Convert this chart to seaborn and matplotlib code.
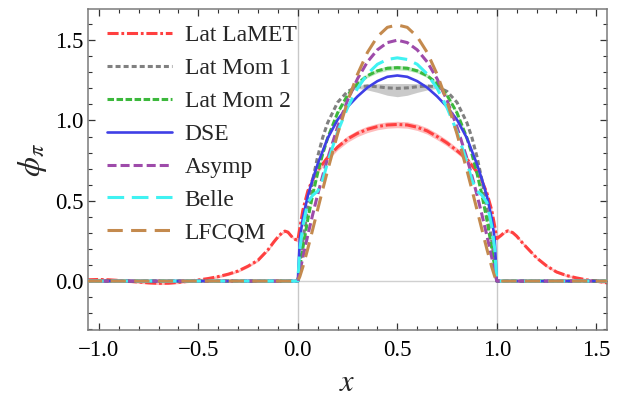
import matplotlib
matplotlib.use("Agg")
import matplotlib.pyplot as plt
import seaborn as sns
import numpy as np

# ---------------- data ----------------
x_model = [-1.06, 0.0, 0.01, 0.025, 0.05, 0.075, 0.1, 0.125, 0.15, 0.2, 0.25, 0.3, 0.35, 0.4, 0.45, 0.5,
           0.55, 0.6, 0.65, 0.7, 0.75, 0.8, 0.85, 0.875, 0.9, 0.925, 0.95, 0.975, 0.99, 1.0, 1.56]

asymp = [0, 0, .059, .146, .285, .416, .540, .656, .765, .960, 1.125, 1.260, 1.365, 1.440, 1.485, 1.500,
         1.485, 1.440, 1.365, 1.260, 1.125, .960, .765, .656, .540, .416, .285, .146, .059, 0, 0]
lfcqm = [0, 0, .028, .087, .201, .323, .447, .570, .690, .917, 1.118, 1.288, 1.424, 1.522, 1.580, 1.595,
         1.580, 1.522, 1.424, 1.288, 1.118, .917, .690, .570, .447, .323, .201, .087, .028, 0, 0]
dse = [0, 0, .26, .39, .53, .635, .73, .81, .89, 1.005, 1.085, 1.15, 1.205, 1.245, 1.272, 1.28,
       1.272, 1.245, 1.205, 1.15, 1.085, 1.005, .89, .81, .73, .635, .53, .39, .26, 0, 0]
mom2 = [0, 0, .085, .205, .384, .540, .675, .792, .891, 1.048, 1.157, 1.231, 1.279, 1.309, 1.325, 1.329,
        1.325, 1.309, 1.279, 1.231, 1.157, 1.048, .891, .792, .675, .540, .384, .205, .085, 0, 0]
mom2_err = [0, 0, .003, .005, .007, .008, .009, .010, .010, .010, .010, .011, .012, .013, .014, .014,
            .014, .013, .012, .011, .010, .010, .010, .010, .009, .008, .007, .005, .003, 0, 0]
mom1 = [0, 0, .106, .249, .458, .633, .777, .894, .986, 1.113, 1.181, 1.210, 1.215, 1.210, 1.203, 1.200,
        1.203, 1.210, 1.215, 1.210, 1.181, 1.113, .986, .894, .777, .633, .458, .249, .106, 0, 0]
belle = [0, 0, .20, .34, .49, .535, .56, .63, .74, .93, 1.08, 1.20, 1.29, 1.35, 1.38, 1.39,
         1.38, 1.35, 1.29, 1.20, 1.08, .93, .74, .63, .56, .535, .49, .34, .20, 0, 0]

x_band1 = [0.25, 0.3, 0.35, 0.4, 0.45, 0.5, 0.55, 0.6, 0.65, 0.7, 0.75]
mom1_lo = [1.179, 1.200, 1.190, 1.175, 1.157, 1.148, 1.157, 1.175, 1.190, 1.200, 1.179]
mom1_hi = [1.183, 1.218, 1.226, 1.229, 1.230, 1.230, 1.230, 1.229, 1.226, 1.218, 1.183]

red_x = [-1.06, -1.0, -0.95, -0.9, -0.85, -0.8, -0.75, -0.7, -0.65, -0.6, -0.55, -0.5, -0.45, -0.4,
         -0.35, -0.3, -0.25, -0.2, -0.15, -0.12, -0.1, -0.08, -0.065, -0.05, -0.035, -0.02,
         0.0, 0.01, 0.025, 0.05, 0.075, 0.1, 0.15, 0.2, 0.25, 0.3, 0.35, 0.4, 0.45, 0.5, 0.55, 0.6,
         0.65, 0.7, 0.75, 0.8, 0.85, 0.9, 0.925, 0.95, 0.975, 0.99, 1.0,
         1.02, 1.04, 1.056, 1.08, 1.1, 1.13, 1.15, 1.2, 1.25, 1.3, 1.35, 1.4, 1.45, 1.5, 1.56]
red_y = [0.008, 0.010, 0.008, 0.004, -0.001, -0.006, -0.011, -0.014, -0.013, -0.008, -0.001, 0.007,
         0.016, 0.028, 0.043, 0.063, 0.093, 0.130, 0.195, 0.245, 0.275, 0.300, 0.311, 0.305, 0.283, 0.262,
         0.255, 0.33, 0.44, 0.56, 0.635, 0.69, 0.77, 0.835, 0.885, 0.92, 0.945, 0.962, 0.972, 0.975,
         0.972, 0.958, 0.935, 0.90, 0.86, 0.812, 0.76, 0.68, 0.625, 0.55, 0.44, 0.34, 0.265,
         0.283, 0.305, 0.313, 0.302, 0.28, 0.237, 0.21, 0.145, 0.095, 0.057, 0.035, 0.02, 0.008, 0.0, -0.012]
red_err = [0.008] * 26 + [0.012, 0.013, 0.014, 0.015, 0.016, 0.017, 0.018, 0.019, 0.02, 0.02, 0.02,
                          0.02, 0.02, 0.02, 0.02, 0.02, 0.02, 0.02, 0.019, 0.018, 0.017, 0.016,
                          0.015, 0.014, 0.013, 0.012, 0.012] + [0.008] * 15

labels = ["Lat LaMET", "Lat Mom 1", "Lat Mom 2", "DSE", "Asymp", "Belle", "LFCQM"]
colors = ["#FF4040", "#808080", "#3CB83C", "#3F3FE6", "#9E4BAA", "#40F2F2", "#C48A4E"]

xticks = [-1.0, -0.5, 0.0, 0.5, 1.0, 1.5]
yticks = [0.0, 0.5, 1.0, 1.5]

# ---------------- style ----------------
sns.set_style("ticks")
plt.rcParams["font.family"] = ["Liberation Serif", "DejaVu Serif"]
plt.rcParams["mathtext.fontset"] = "stix"
plt.rcParams["lines.scale_dashes"] = False

fig = plt.figure(figsize=(6.24, 4.03), dpi=100)
ax = fig.add_axes([0.141, 0.181, 0.832, 0.797])

# reference lines
for xv in (0.0, 1.0):
    ax.axvline(xv, color="#C8C8C8", lw=1.0, zorder=0)
ax.axhline(0.0, color="#D0D0D0", lw=1.0, zorder=0)

# bands
red_y_a = np.array(red_y); red_e = np.array(red_err)
ax.fill_between(red_x, red_y_a - red_e, red_y_a + red_e, color="#FF4040", alpha=0.35, lw=0, zorder=1)
ax.fill_between(x_band1, mom1_lo, mom1_hi, color="#A0A0A0", alpha=0.55, lw=0, zorder=1)
m2 = np.array(mom2); m2e = np.array(mom2_err)
ax.fill_between(x_model, m2 - m2e, m2 + m2e, color="#3CB83C", alpha=0.3, lw=0, zorder=1)

lw = 2.2
series = [
    (red_x, red_y, (0, (8, 2, 2, 2)), lw),
    (x_model, mom1, (0, (3.6, 2.2)), lw),
    (x_model, mom2, (0, (4.7, 1.8)), lw),
    (x_model, dse, "-", 1.9),
    (x_model, asymp, (0, (6.5, 2.9)), lw),
    (x_model, belle, (0, (12, 5.5)), lw),
    (x_model, lfcqm, (0, (11, 6)), lw),
]
for i, ((xs, ys, ls, w), lab, col) in enumerate(zip(series, labels, colors)):
    sns.lineplot(x=xs, y=ys, ax=ax, color=col, linestyle=ls, lw=w, label=lab,
                 sort=False, estimator=None, zorder=2 + i, legend=False)

ax.set_xlim(-1.055, 1.555)
ax.set_ylim(-0.305, 1.695)
ax.set_xticks(xticks)
ax.set_yticks(yticks)
ax.set_xticklabels([f"{t:.1f}".replace("-", "\u2212") for t in xticks])
ax.set_yticklabels([f"{t:.1f}" for t in yticks])
ax.xaxis.set_minor_locator(matplotlib.ticker.MultipleLocator(0.1))
ax.yaxis.set_minor_locator(matplotlib.ticker.MultipleLocator(0.1))
ax.tick_params(which="both", direction="in", top=True, right=True, colors="#333333", labelsize=16.5)
ax.tick_params(which="major", length=5, width=0.9, pad=7)
ax.tick_params(which="minor", length=3, width=0.8)
ax.tick_params(axis="y", which="major", pad=3)
ax.tick_params(axis="both", labelcolor="black")
for sp in ax.spines.values():
    sp.set_color("#7A7A7A")
    sp.set_linewidth(1.1)

ax.set_xlabel(r"$x$", fontsize=22, labelpad=6)
ax.set_ylabel(r"$\phi_\pi$", fontsize=23)
ax.yaxis.set_label_coords(-0.075, 0.53)

handles = [l for l in ax.get_lines() if l.get_label() in labels]
ax.legend(handles=handles, labels=labels, loc="upper left", bbox_to_anchor=(0.036, 0.950),
          frameon=False, fontsize=17, handlelength=2.75, handletextpad=0.55,
          labelspacing=0.48, borderaxespad=0, borderpad=0)

fig.savefig("out.png", dpi=100)
